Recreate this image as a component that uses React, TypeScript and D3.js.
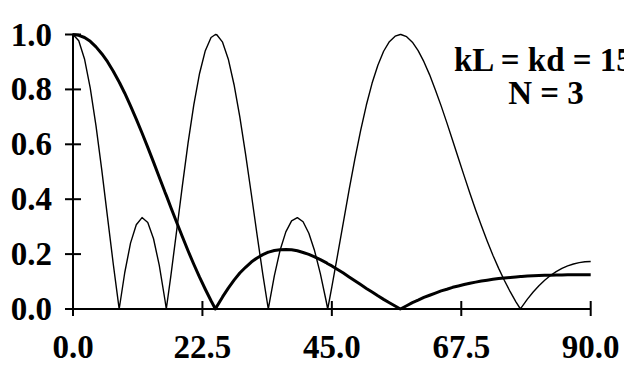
import React from 'react';
import { scaleLinear, line } from 'd3';

// angle in degrees (with the null points of the array factor added)
const angles = [
  0, 1, 2, 3, 4, 5, 6, 7, 8, 8.03, 9, 10, 11, 12, 13, 14, 15, 16, 16.22, 17, 18, 19, 20,
  21, 22, 23, 24, 24.76, 25, 26, 27, 28, 29, 30, 31, 32, 33, 33.95, 34, 35, 36, 37, 38,
  39, 40, 41, 42, 43, 44, 44.28, 45, 46, 47, 48, 49, 50, 51, 52, 53, 54, 55, 56, 56.9,
  57, 58, 59, 60, 61, 62, 63, 64, 65, 66, 67, 68, 69, 70, 71, 72, 73, 74, 75, 76, 77,
  77.79, 78, 79, 80, 81, 82, 83, 84, 85, 86, 87, 88, 89, 90,
];

// thick curve: element pattern
const elementPattern = [
  1.0, 0.997, 0.989, 0.975, 0.955, 0.93, 0.901, 0.866, 0.828, 0.827, 0.786, 0.74, 0.692,
  0.641, 0.589, 0.535, 0.48, 0.425, 0.414, 0.371, 0.317, 0.264, 0.212, 0.163, 0.116,
  0.072, 0.03, 0.0, 0.009, 0.044, 0.076, 0.105, 0.131, 0.152, 0.171, 0.186, 0.198, 0.207,
  0.207, 0.213, 0.216, 0.217, 0.216, 0.212, 0.206, 0.199, 0.19, 0.18, 0.169, 0.165, 0.157,
  0.144, 0.131, 0.117, 0.103, 0.089, 0.075, 0.062, 0.048, 0.035, 0.023, 0.011, 0.0, 0.001,
  0.012, 0.023, 0.032, 0.042, 0.05, 0.058, 0.066, 0.072, 0.079, 0.084, 0.089, 0.094,
  0.098, 0.102, 0.105, 0.108, 0.111, 0.113, 0.115, 0.117, 0.118, 0.118, 0.12, 0.121,
  0.122, 0.123, 0.123, 0.124, 0.124, 0.125, 0.125, 0.125, 0.125, 0.125,
];

// thin curve: array factor
const arrayFactor = [
  1.0, 0.977, 0.911, 0.805, 0.667, 0.507, 0.335, 0.164, 0.004, 0.0, 0.133, 0.24, 0.307,
  0.333, 0.315, 0.256, 0.159, 0.031, 0.0, 0.119, 0.282, 0.447, 0.604, 0.744, 0.858,
  0.941, 0.989, 1.0, 0.999, 0.972, 0.91, 0.817, 0.7, 0.564, 0.419, 0.27, 0.126, 0.0,
  0.006, 0.121, 0.214, 0.281, 0.321, 0.333, 0.318, 0.276, 0.212, 0.129, 0.03, 0.0, 0.081,
  0.197, 0.316, 0.434, 0.546, 0.65, 0.743, 0.823, 0.888, 0.939, 0.974, 0.994, 1.0, 1.0,
  0.992, 0.972, 0.941, 0.901, 0.853, 0.798, 0.74, 0.678, 0.614, 0.549, 0.485, 0.422,
  0.361, 0.303, 0.248, 0.196, 0.148, 0.104, 0.063, 0.026, 0.0, 0.007, 0.036, 0.062,
  0.085, 0.105, 0.122, 0.136, 0.148, 0.157, 0.164, 0.169, 0.172, 0.173,
];

const xTicks = [0, 22.5, 45, 67.5, 90];
const yTicks = [0, 0.2, 0.4, 0.6, 0.8, 1.0];
const noteLines = ['kL = kd = 15', 'N = 3'];

const width = 624;
const height = 365;
const font = '"Liberation Serif", "Times New Roman", serif';

export default function App() {
  const x = scaleLinear().domain([0, 90]).range([73, 590.7]);
  const y = scaleLinear().domain([0, 1]).range([309, 34.5]);

  const path = line<number>()
    .x((_, i) => x(angles[i]))
    .y(d => y(d));

  return (
    <svg
      width={width}
      height={height}
      style={{ position: 'absolute', left: 0, top: 0, background: '#fff' }}
    >
      <g fill="none" stroke="#000">
        <path d={path(arrayFactor) || ''} strokeWidth={1.4} strokeLinejoin="round" />
        <path d={path(elementPattern) || ''} strokeWidth={3} strokeLinejoin="round" />
      </g>

      {/* axes */}
      <g stroke="#000" strokeWidth={2}>
        <line x1={x(0)} x2={x(0)} y1={y(1) - 1} y2={y(0)} />
        <line x1={x(0)} x2={x(90)} y1={y(0)} y2={y(0)} />
        {yTicks.map(t => (
          <line key={'y' + t} x1={x(0) - 8} x2={x(0) + 8} y1={y(t)} y2={y(t)} />
        ))}
        {xTicks.map(t => (
          <line key={'x' + t} x1={x(t)} x2={x(t)} y1={y(0) - 8} y2={y(0) + 7} />
        ))}
      </g>

      <g fontFamily={font} fontWeight="bold" fontSize={33} fill="#000">
        {yTicks.map(t => (
          <text key={'yl' + t} x={52} y={y(t) + 11} textAnchor="end">
            {t.toFixed(1)}
          </text>
        ))}
        {xTicks.map(t => (
          <text key={'xl' + t} x={x(t)} y={358} textAnchor="middle">
            {t.toFixed(1)}
          </text>
        ))}
        <text x={454} y={71}>
          {noteLines[0]}
        </text>
        <text x={546} y={104} textAnchor="middle">
          {noteLines[1]}
        </text>
      </g>
    </svg>
  );
}
